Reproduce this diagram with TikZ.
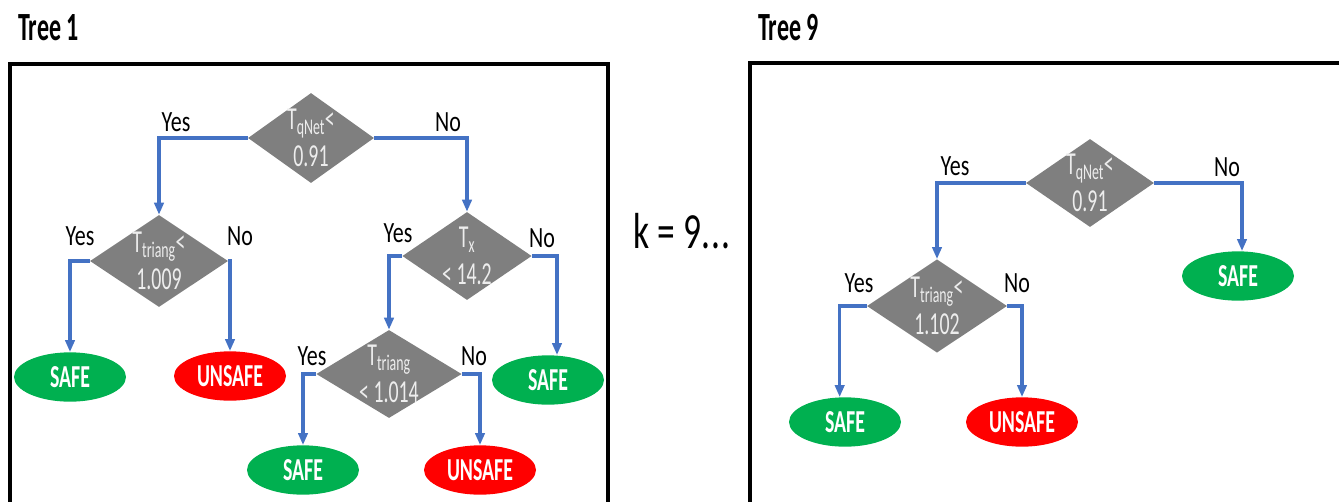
\documentclass[tikz,border=0pt]{standalone}
\usepackage{fontspec}
\usepackage{graphicx}
\setmainfont{Carlito}
\usetikzlibrary{shapes.geometric,arrows.meta}
\definecolor{dgray}{HTML}{7F7F7F}
\definecolor{lblue}{HTML}{4472C4}
\definecolor{sgreen}{HTML}{00B050}
\definecolor{ured}{HTML}{FF0000}
\definecolor{dtext}{HTML}{EDEDED}
\newcommand{\sx}[2]{\scalebox{#1}[1]{#2}}
\newcommand{\sub}[1]{\textsubscript{#1}}
\tikzset{
  frame/.style={draw=black,line width=2.6pt},
  dia/.style={diamond,fill=dgray,draw=none,inner sep=0pt,aspect=1.4},
  dtxt/.style={text=dtext,font=\fontsize{24}{28}\selectfont,align=center,inner sep=0pt},
  leaf/.style={ellipse,draw=none,inner sep=0pt,minimum width=84pt,minimum height=37pt,text=white,font=\fontsize{24}{26}\selectfont\bfseries},
  safe/.style={leaf,fill=sgreen},
  unsafe/.style={leaf,fill=ured},
  conn/.style={draw=lblue,line width=2.6pt,-{Triangle[width=7pt,length=9pt]}},
  lbl/.style={anchor=base,inner sep=0pt,font=\fontsize{22}{24}\selectfont},
  ttl/.style={anchor=base west,inner sep=0pt,font=\fontsize{30}{32}\selectfont\bfseries},
}
\begin{document}
\begin{tikzpicture}[x=0.75pt,y=-0.75pt]
\useasboundingbox (0,0) rectangle (1339,501);
\clip (0,0) rectangle (1339,501);
% frames
\draw[frame] (10,64) rectangle (608,540);
\draw[frame] (750,63) rectangle (1360,540);
% titles
\node[ttl] (t1) at (18,40) {\sx{0.6}{Tree 1}};
\node[ttl] (t9) at (758,40) {\sx{0.6}{Tree 9}};
\node[anchor=base west,inner sep=0pt,font=\fontsize{38}{40}\selectfont] (k) at (633,248) {\sx{0.7}{k = 9.\kern1.5pt.\kern1.5pt.}};
% ---------- Tree 1 ----------
\node[dia,minimum width=94.5pt,minimum height=67.5pt] (d1) at (311,138) {};
\node[dtxt] (d1t) at (d1) {\sx{0.62}{T\sub{qNet}<}\\\sx{0.62}{0.91}};
\node[dia,minimum width=103.5pt,minimum height=69pt] (d2) at (159,261) {};
\node[dtxt] (d2t) at (d2) {\sx{0.62}{T\sub{triang}<}\\\sx{0.62}{1.009}};
\node[dia,minimum width=97pt,minimum height=66pt] (d3) at (467,256) {};
\node[dtxt] (d3t) at (d3) {\sx{0.62}{T\sub{x}}\\\sx{0.62}{< 14.2}};
\node[dia,minimum width=109pt,minimum height=66pt] (d4) at (389,374) {};
\node[dtxt] (d4t) at (d4) {\sx{0.62}{T\sub{triang}}\\\sx{0.62}{< 1.014}};
\node[safe] (s1) at (70,377) {\sx{0.62}{SAFE}};
\node[unsafe] (u1) at (230,376) {\sx{0.62}{UNSAFE}};
\node[safe] (s2) at (548,380) {\sx{0.62}{SAFE}};
\node[safe] (s3) at (303,470) {\sx{0.62}{SAFE}};
\node[unsafe] (u2) at (480,470) {\sx{0.62}{UNSAFE}};
\draw[conn] (d1.west) -| (d2.north);
\draw[conn] (d1.east) -| (d3.north);
\draw[conn] (d2.west) -| (s1.north);
\draw[conn] (d2.east) -| (u1.north);
\draw[conn] (d3.west) -| (d4.north);
\draw[conn] (d3.east) -| ([xshift=6.75pt]s2.north);
\draw[conn] (d4.west) -| (s3.north);
\draw[conn] (d4.east) -| (u2.north);
\node[lbl] (y1) at (176,131) {\sx{0.75}{Yes}};
\node[lbl] (n1) at (448,131) {\sx{0.75}{No}};
\node[lbl] (y2) at (80,245) {\sx{0.75}{Yes}};
\node[lbl] (n2) at (240,245) {\sx{0.75}{No}};
\node[lbl] (y3) at (398,242) {\sx{0.75}{Yes}};
\node[lbl] (n3) at (542,247) {\sx{0.75}{No}};
\node[lbl] (y4) at (312,365) {\sx{0.75}{Yes}};
\node[lbl] (n4) at (474,365) {\sx{0.75}{No}};
% ---------- Tree 9 ----------
\node[dia,minimum width=96pt,minimum height=66pt] (e1) at (1090,183) {};
\node[dtxt] (e1t) at (e1) {\sx{0.62}{T\sub{qNet}<}\\\sx{0.62}{0.91}};
\node[dia,minimum width=105pt,minimum height=70pt] (e2) at (937,306) {};
\node[dtxt] (e2t) at (e2) {\sx{0.62}{T\sub{triang}<}\\\sx{0.62}{1.102}};
\node[safe] (v1) at (1238,276) {\sx{0.62}{SAFE}};
\node[safe] (v2) at (845,422) {\sx{0.62}{SAFE}};
\node[unsafe] (v3) at (1022,422) {\sx{0.62}{UNSAFE}};
\draw[conn] (e1.west) -| (e2.north);
\draw[conn] (e1.east) -| ([xshift=3pt]v1.north);
\draw[conn] (e2.west) -| ([xshift=-4pt]v2.north);
\draw[conn] (e2.east) -| (v3.north);
\node[lbl] (y5) at (955,175) {\sx{0.75}{Yes}};
\node[lbl] (n5) at (1227,176) {\sx{0.75}{No}};
\node[lbl] (y6) at (859,292) {\sx{0.75}{Yes}};
\node[lbl] (n6) at (1017,292) {\sx{0.75}{No}};
\end{tikzpicture}
\end{document}
